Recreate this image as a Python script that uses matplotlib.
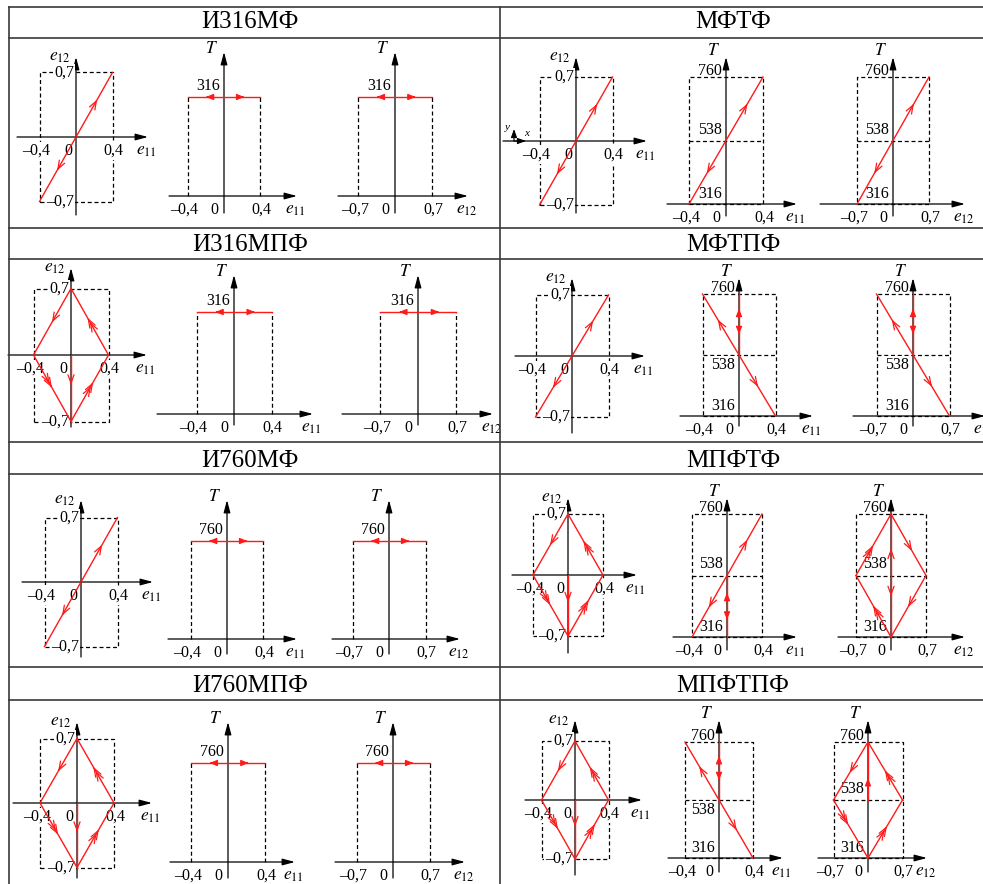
import numpy as np
import matplotlib
matplotlib.use('Agg')
import matplotlib.pyplot as plt
from matplotlib.lines import Line2D

plt.rcParams['font.family'] = ['Liberation Serif', 'DejaVu Serif']
plt.rcParams['mathtext.fontset'] = 'stix'

W, H = 983, 884

# ---------------- data ----------------
titles = ["И316МФ", "МФТФ", "И316МПФ", "МФТПФ", "И760МФ", "МПФТФ", "И760МПФ", "МПФТПФ"]
E11_AMP = 0.4
E12_AMP = 0.7
T_LEVELS = [316, 538, 760]          # low, mid, high temperature
e11_ticks = ["–0,4", "0", "0,4"]
e12_ticks = ["–0,7", "0", "0,7"]
# strain path in the e11-e12 plane
strain_kind = ["prop", "prop", "diamond", "prop", "prop", "diamond", "diamond", "diamond"]
# temperature paths: (T-e11, T-e12)
temp_kind = [("iso", "iso"), ("asc", "asc"), ("iso", "iso"), ("desc_v", "desc_v"),
             ("iso", "iso"), ("asc_v", "dia_v"), ("iso", "iso"), ("desc_v", "dia_v2")]
iso_T = [316, None, 316, None, 760, None, 760, None]

# ---------------- layout (pixels) ----------------
# (origin x, origin y, half-width px, level px, left, right, top, bottom)
geom = [
    [(76, 137, 36.5, 64.5, 59, 72, 80, 78), (224, 196, 36.5, 99, 55, 73, 144, 17), (395, 196, 37, 99, 57, 73, 144, 17)],
    [(576, 141, 36.5, 64, 73, 71, 84, 72), (726, 204, 37, 127, 59, 71, 147, 12), (893, 204, 36, 127, 73, 72, 147, 12)],
    [(71, 355, 37.5, 66.5, 63, 76, 87, 72), (234, 414, 37.5, 102, 77, 79, 139, 11), (418, 414, 38, 102, 76, 75, 139, 11)],
    [(572, 356, 36.5, 61, 57, 73, 78, 77), (739, 416, 36.5, 122, 59, 74, 138, 10), (913, 416, 36.5, 122, 60, 72, 138, 10)],
    [(81, 582, 36.5, 64.5, 59, 72, 82, 75), (227, 639, 36.5, 98, 59, 70, 139, 15), (389, 639, 36.5, 98, 57, 71, 139, 15)],
    [(568, 575, 35, 61, 56, 69, 77, 78), (727, 637, 35, 123, 54, 70, 139, 13), (891, 637, 35, 123, 53, 74, 139, 13)],
    [(77, 803, 37, 64.5, 64, 75, 81, 75), (228, 862, 37, 99, 58, 67, 140, 16), (393, 862, 36.5, 99, 58, 72, 140, 16)],
    [(575, 800, 33.5, 59, 50, 67, 80, 75), (719, 858, 34, 116, 51, 64, 138, 14), (868, 858, 34.5, 116, 50, 59, 138, 14)],
]
title_pos = [(250, 22), (733, 22), (250, 245), (733, 245), (250, 461), (733, 461), (250, 686), (733, 686)]
hlines_y = [7, 38, 228, 259, 442, 474, 667, 700]
vlines_x = [8.5, 500]

RED = '#ff1a1a'
DASH = dict(color='black', lw=0.9, ls=(0, (3.2, 2.2)), zorder=1, clip_on=False)
AX_ARROW = dict(arrowstyle='-|>,head_length=0.75,head_width=0.2', color='black', lw=0.9,
                shrinkA=0, shrinkB=0, mutation_scale=10)
FS = 11.5
LFS = 12.5
BOX = dict(boxstyle='square,pad=0.05', fc='white', ec='none')

fig = plt.figure(figsize=(W / 100, H / 100), dpi=100)

# table lines
for y in hlines_y:
    fig.add_artist(Line2D([8.5 / W, 1.0], [1 - y / H, 1 - y / H], transform=fig.transFigure,
                          color='#3a3a3a', lw=1.2))
for x in vlines_x:
    fig.add_artist(Line2D([x / W, x / W], [1 - 7 / H, 0], transform=fig.transFigure,
                          color='#3a3a3a', lw=1.2))
for t, (x, y) in zip(titles, title_pos):
    fig.text(x / W, 1 - y / H, t, ha='center', va='center', fontsize=18)


def make_ax(g, sx, sy, yc):
    ox, oy, _, _, left, right, top, bottom = g
    ax = fig.add_axes([(ox - left) / W, 1 - (oy + bottom) / H, (left + right) / W, (top + bottom) / H])
    ax.set_xlim(-left / sx, right / sx)
    ax.set_ylim(yc - bottom / sy, yc + top / sy)
    ax.set_axis_off()
    x0, x1 = ax.get_xlim()
    y0, y1 = ax.get_ylim()
    ax.annotate('', xy=(x1, yc), xytext=(x0, yc), arrowprops=AX_ARROW, annotation_clip=False, zorder=2)
    ax.annotate('', xy=(0, y1), xytext=(0, y0), arrowprops=AX_ARROW, annotation_clip=False, zorder=2)
    return ax


def lab(ax, s, xy, off, ha, va, fs=FS, box=True):
    ax.annotate(s, xy=xy, xytext=off, textcoords='offset pixels', ha=ha, va=va, fontsize=fs,
                bbox=BOX if box else None, zorder=3, annotation_clip=False)


def head(ax, p0, p1, t, d, n=1, filled=False):
    P0 = ax.transData.transform(p0)
    P1 = ax.transData.transform(p1)
    v = (P1 - P0) * d
    u = v / np.hypot(*v)
    Pt = P0 + t * (P1 - P0)
    if filled:
        style = '-|>,head_length=0.45,head_width=0.18'
    else:
        style = '->,head_length=0.6,head_width=0.22'
    inv = ax.transData.inverted()
    for k in range(n):
        tip = Pt - k * 4.5 * u
        tail = tip - 2.5 * u
        ax.annotate('', xy=inv.transform(tip), xytext=inv.transform(tail),
                    arrowprops=dict(arrowstyle=style, color=RED, lw=0.9, shrinkA=0, shrinkB=0,
                                    mutation_scale=10), annotation_clip=False, zorder=5)


def draw_path(ax, segs, arrows):
    for p0, p1 in segs:
        ax.plot([p0[0], p1[0]], [p0[1], p1[1]], color=RED, lw=1.0, zorder=4, clip_on=False)
    for i, t, d, n, f in arrows:
        head(ax, segs[i][0], segs[i][1], t, d, n, f)


def strain_path(kind, a, b):
    if kind == "prop":
        segs = [((-a, -b), (a, b))]
        arrows = [(0, 0.79, 1, 1, False), (0, 0.24, -1, 1, False)]
    else:
        top, left, bot, right = (0, b), (-a, 0), (0, -b), (a, 0)
        segs = [((0, 0), bot), (bot, right), (right, top), (top, left), (left, bot)]
        arrows = [(0, 0.45, 1, 1, False), (1, 0.59, 1, 2, False), (2, 0.56, 1, 2, False),
                  (3, 0.51, 1, 1, False), (4, 0.49, 1, 2, False)]
    return segs, arrows


def temp_path(kind, a, Tiso):
    lo, mid, hi = T_LEVELS
    if kind == "iso":
        segs = [((-a, Tiso), (a, Tiso))]
        arrows = [(0, 0.25, -1, 1, True), (0, 0.78, 1, 1, True)]
    elif kind == "asc":
        segs = [((-a, lo), (a, hi))]
        arrows = [(0, 0.79, 1, 1, False), (0, 0.24, -1, 1, False)]
    elif kind == "asc_v":
        segs = [((-a, lo), (a, hi)), ((0, lo), (0, mid))]
        arrows = [(0, 0.79, 1, 1, False), (0, 0.24, -1, 1, False),
                  (1, 0.72, 1, 1, True), (1, 0.28, -1, 1, True)]
    elif kind == "desc_v":
        segs = [((-a, hi), (a, lo)), ((0, mid), (0, hi))]
        arrows = [(0, 0.21, -1, 1, False), (0, 0.76, 1, 1, False),
                  (1, 0.76, 1, 1, True), (1, 0.34, -1, 1, True)]
    elif kind == "dia_v":
        segs = [((-a, mid), (0, hi)), ((0, hi), (a, mid)), ((0, lo), (-a, mid)),
                ((a, mid), (0, lo)), ((0, lo), (0, hi))]
        arrows = [(0, 0.49, 1, 2, False), (1, 0.6, 1, 1, False), (2, 0.51, 1, 2, False),
                  (3, 0.51, 1, 1, False), (4, 0.72, 1, 1, False), (4, 0.33, -1, 1, False)]
    else:  # dia_v2
        segs = [((0, hi), (-a, mid)), ((a, mid), (0, hi)), ((-a, mid), (0, lo)),
                ((0, lo), (a, mid)), ((0, mid), (0, hi))]
        arrows = [(0, 0.53, 1, 1, False), (1, 0.51, 1, 2, False), (2, 0.43, 1, 2, False),
                  (3, 0.55, 1, 2, False), (4, 0.38, 1, 1, True)]
    return segs, arrows


for r in range(len(titles)):
    g_ee, g_t1, g_t2 = geom[r]
    # ---- e11-e12 plane ----
    a, b = E11_AMP, E12_AMP
    ax = make_ax(g_ee, g_ee[2] / a, g_ee[3] / b, 0.0)
    ax.plot([-a, a, a, -a, -a], [-b, -b, b, b, -b], **DASH)
    y1 = ax.get_ylim()[1]
    x1 = ax.get_xlim()[1]
    lab(ax, r'$e_{12}$', (0, y1), (-5, 0), 'right', 'center', fs=LFS, box=False)
    lab(ax, e12_ticks[2], (0, b), (-2, 0), 'right', 'center')
    lab(ax, e12_ticks[0], (0, -b), (-2, 0), 'right', 'center')
    lab(ax, e11_ticks[0], (-a, 0), (-3, -6), 'center', 'top')
    lab(ax, e11_ticks[1], (0, 0), (-4, -6), 'right', 'top', box=False)
    lab(ax, e11_ticks[2], (a, 0), (1, -6), 'center', 'top')
    lab(ax, r'$e_{11}$', (x1, 0), (-12, -6), 'left', 'top', fs=LFS, box=False)
    segs, arrows = strain_path(strain_kind[r], a, b)
    draw_path(ax, segs, arrows)
    if r == 1:
        # small coordinate system symbol
        ox, oy = g_ee[0], g_ee[1]
        fig.text((ox - 69) / W, 1 - (oy - 13) / H, 'y', fontsize=8, style='italic', ha='center', va='center')
        fig.text((ox - 49) / W, 1 - (oy - 7) / H, 'x', fontsize=8, style='italic', ha='center', va='center')
        ax.annotate('', xy=(ox - 62, H - oy + 12), xytext=(ox - 62, H - oy), xycoords='figure pixels',
                    textcoords='figure pixels', annotation_clip=False,
                    arrowprops=dict(arrowstyle='-|>,head_length=0.5,head_width=0.18', color='black',
                                    lw=0.8, shrinkA=0, shrinkB=0, mutation_scale=10))
        ax.annotate('', xy=(ox - 50, H - oy), xytext=(ox - 62, H - oy), xycoords='figure pixels',
                    textcoords='figure pixels', annotation_clip=False,
                    arrowprops=dict(arrowstyle='-|>,head_length=0.5,head_width=0.18', color='black',
                                    lw=0.8, shrinkA=0, shrinkB=0, mutation_scale=10))

    # ---- T diagrams ----
    for j, (g, amp, ticks, xlab) in enumerate([(g_t1, E11_AMP, e11_ticks, r'$e_{11}$'),
                                               (g_t2, E12_AMP, e12_ticks, r'$e_{12}$')]):
        kind = temp_kind[r][j]
        sx = g[2] / amp
        if kind == "iso":
            T = iso_T[r]
            sy = g[3] / T
            yc = 0.0
        else:
            sy = g[3] / (T_LEVELS[2] - T_LEVELS[0])
            yc = T_LEVELS[0]
        ax = make_ax(g, sx, sy, yc)
        y1 = ax.get_ylim()[1]
        x1 = ax.get_xlim()[1]
        t_off = 3 if kind == "iso" else 6
        lab(ax, r'$T$', (0, y1), (-6, t_off), 'right', 'center', fs=LFS, box=False)
        lab(ax, ticks[0], (-amp, yc), (-3, -6), 'center', 'top')
        lab(ax, ticks[1], (0, yc), (-6, -6), 'right', 'top', box=False)
        lab(ax, ticks[2], (amp, yc), (1, -6), 'center', 'top')
        lab(ax, xlab, (x1, yc), (-12, -6), 'left', 'top', fs=LFS, box=False)
        if kind == "iso":
            ax.plot([-amp, -amp], [0, T], **DASH)
            ax.plot([amp, amp], [0, T], **DASH)
            lab(ax, str(T), (0, T), (-4, 3), 'right', 'bottom', box=False)
            segs, arrows = temp_path(kind, amp, T)
        else:
            lo, mid, hi = T_LEVELS
            ax.plot([-amp, amp, amp, -amp, -amp], [lo, lo, hi, hi, lo], **DASH)
            ax.plot([-amp, amp], [mid, mid], **DASH)
            lab(ax, str(hi), (0, hi), (-4, -2), 'right', 'bottom', box=False)
            if kind == "desc_v":
                lab(ax, str(mid), (0, mid), (-4, -2), 'right', 'top')
            else:
                lab(ax, str(mid), (0, mid), (-4, 3), 'right', 'bottom')
            lab(ax, str(lo), (0, lo), (-4, 2), 'right', 'bottom', box=False)
            segs, arrows = temp_path(kind, amp, None)
        draw_path(ax, segs, arrows)

fig.savefig('out.png', dpi=100)
